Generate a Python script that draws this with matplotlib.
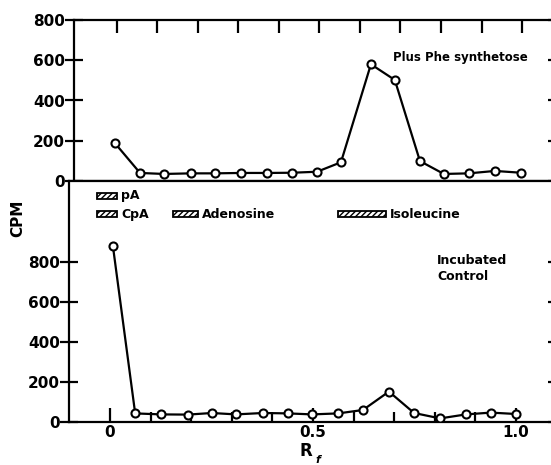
import matplotlib.pyplot as plt
from matplotlib.patches import Rectangle
import numpy as np

plt.rcParams["font.family"] = "DejaVu Sans"
plt.rcParams["font.weight"] = "bold"
plt.rcParams["hatch.linewidth"] = 1.0

# upper panel: plus Phe synthetase
rf_top = [-0.005, 0.057, 0.116, 0.183, 0.242, 0.306, 0.370, 0.432, 0.494,
          0.553, 0.627, 0.686, 0.748, 0.807, 0.869, 0.933, 0.998]
cpm_top = [188, 40, 35, 38, 38, 40, 40, 41, 46, 93, 580, 502, 99, 35, 38, 50, 41]

# lower panel: incubated control
rf_bot = [0.007, 0.062, 0.126, 0.192, 0.251, 0.310, 0.377, 0.438, 0.498,
          0.562, 0.623, 0.687, 0.749, 0.813, 0.877, 0.938, 1.000]
cpm_bot = [882, 43, 38, 37, 45, 38, 45, 43, 38, 43, 60, 152, 45, 18, 38, 47, 40]

# marker spots (Rf ranges) drawn in the lower panel
std_names = ["pA", "CpA", "Adenosine", "Isoleucine"]
std_lo = [-0.032, -0.032, 0.155, 0.562]
std_hi = [0.017, 0.017, 0.217, 0.680]
std_row = [1132, 1040, 1040, 1040]

W, H = 551, 465
fig = plt.figure(figsize=(W / 100, H / 100), dpi=100)

ax1 = fig.add_axes([74 / W, (H - 181) / H, (552 - 74) / W, 161 / H])
ax2 = fig.add_axes([69 / W, (H - 422) / H, (552 - 69) / W, 241 / H])

lw = 1.6
for ax in (ax1, ax2):
    for s in ax.spines.values():
        s.set_linewidth(lw)
    ax.spines["right"].set_visible(False)

# top panel
ax1.plot(rf_top, cpm_top, "-o", color="black", lw=1.6, ms=5.8,
         mfc="white", mec="black", mew=1.5, zorder=3)
ax1.set_xlim(-0.106, 1.074)
ax1.set_ylim(0, 800)
ax1.set_yticks([0, 200, 400, 600, 800])
ax1.set_xticks(np.arange(0, 1.01, 0.1))
ax1.tick_params(axis="x", which="both", bottom=False, top=True,
                labelbottom=False, direction="in", length=9, width=lw)
ax1.tick_params(axis="y", left=True, right=True,
                direction="inout", length=13, width=lw, labelsize=11, pad=0)
for t in ax1.yaxis.get_major_ticks():
    t.tick2line.set_markersize(6)
fig.text(393 / W, 1 - 57 / H, "Plus Phe synthetose", fontsize=8.5,
         va="center", ha="left")

# bottom panel
ax2.plot(rf_bot, cpm_bot, "-o", color="black", lw=1.6, ms=5.8,
         mfc="white", mec="black", mew=1.5, zorder=3)
ax2.set_xlim(-0.101, 1.0887)
ax2.set_ylim(0, 1205)
ax2.set_yticks([0, 200, 400, 600, 800])
ax2.set_xticks([0, 0.5, 1.0])
ax2.set_xticklabels(["0", "0.5", "1.0"])
ax2.set_xticks(np.arange(0.1, 1.0, 0.1), minor=True)
ax2.tick_params(axis="x", which="major", direction="in", length=10,
                width=lw, labelsize=11, pad=2)
ax2.tick_params(axis="x", which="minor", direction="in", length=7, width=lw)
ax2.tick_params(axis="y", left=True, right=True, direction="inout",
                length=13, width=lw, labelsize=11, pad=0)
for t in ax2.yaxis.get_major_ticks():
    t.tick2line.set_markersize(6)

for name, lo, hi, yr in zip(std_names, std_lo, std_hi, std_row):
    ax2.add_patch(Rectangle((lo, yr - 15), hi - lo, 30, facecolor="white",
                            edgecolor="black", hatch="//////", lw=1.3))
    ax2.text(hi + 0.01, yr, name, fontsize=9, va="center", ha="left")

fig.text(437 / W, 1 - 261 / H, "Incubated", fontsize=9, va="center", ha="left")
fig.text(437 / W, 1 - 276 / H, "Control", fontsize=9, va="center", ha="left")

fig.text(18 / W, 1 - 218 / H, "CPM", fontsize=11, rotation=90,
         va="center", ha="center")
fig.text(306 / W, 1 - 451 / H, "R", fontsize=12, va="center", ha="center")
fig.text(315 / W, 1 - 460 / H, "f", fontsize=8, style="italic",
         va="center", ha="left")

fig.savefig("out.png", dpi=100)
